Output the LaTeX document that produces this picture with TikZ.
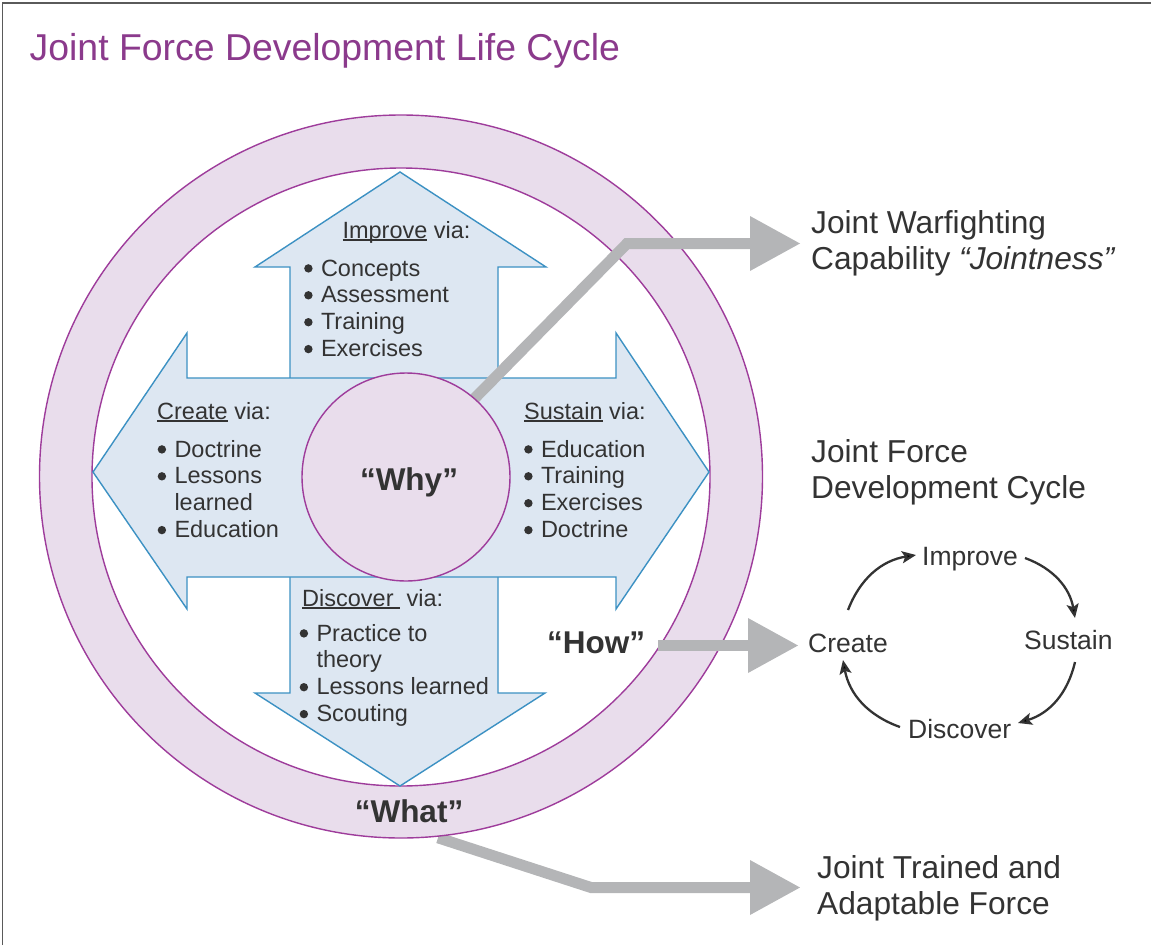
\documentclass[tikz,border=0pt]{standalone}
\usepackage{fontspec}
\setmainfont{Liberation Sans}
\usetikzlibrary{arrows.meta}
\definecolor{ttl}{RGB}{139,58,140}
\definecolor{ringfill}{RGB}{233,221,236}
\definecolor{ringline}{RGB}{158,60,155}
\definecolor{crossfill}{RGB}{221,231,242}
\definecolor{crossline}{RGB}{60,145,195}
\definecolor{arrowgray}{RGB}{180,181,183}
\definecolor{txt}{RGB}{51,51,51}
\definecolor{framecol}{RGB}{90,90,90}
\newsavebox\ulbox
\newcommand{\myul}[1]{\sbox\ulbox{#1}\rlap{\rule[-3pt]{\wd\ulbox}{1.8pt}}\usebox\ulbox}
\newcommand{\bdot}{\tikz[baseline=0pt,x=1pt,y=1pt]\fill[txt] (4.3,7.6) circle[radius=4.2pt];}
\newcommand{\bitem}[1]{\makebox[16.8pt][l]{\bdot}#1}
\newcommand{\bcont}[1]{\hspace*{16.8pt}#1}
\begin{document}
\begin{tikzpicture}[x=1pt,y=1pt,
  lst/.style={anchor=base west, inner sep=0pt, text=txt, font=\fontsize{23.5}{26.9}\selectfont},
  side/.style={anchor=base west, inner sep=0pt, text=txt, font=\fontsize{31.7}{36}\selectfont},
  cyclbl/.style={anchor=base west, inner sep=0pt, text=txt, font=\fontsize{26.5}{30}\selectfont},
  big/.style={anchor=base, inner sep=0pt, text=txt, font=\fontsize{31.5}{36}\selectfont\bfseries},
  ringc/.style={circle, inner sep=0pt, draw=ringline, line width=1.4pt},
  crossst/.style={fill=crossfill, draw=crossline, line width=1.4pt, line join=miter},
  gshaft/.style={draw=arrowgray, line width=11pt, line join=miter},
  ghead/.style={fill=arrowgray},
  cyc/.style={draw=txt, line width=2.3pt, -{Stealth[length=14pt,width=12pt,inset=3pt]}}
]
\useasboundingbox (0,0) rectangle (1151,-945);
\draw[framecol, line width=1.5pt] (2.5,-945) -- (2.5,-3) -- (1151,-3);

% title
\node[anchor=base west, inner sep=0pt, text=ttl, font=\fontsize{37.4}{42}\selectfont] (title) at (29.5,-60) {Joint Force Development Life Cycle};

% "What" arrow (start tucked under the ring)
\coordinate (w0) at (438,-837.8);
\coordinate (w1) at (591,-887.5);
\coordinate (w2) at (751,-887.5);
\draw[gshaft] (w0) -- (w1) -- (w2);
\fill[ghead] (w2) ++(-1,27.5) -- ++(50,-27.5) -- ++(-50,-27.5) -- cycle;

% ring
\node[ringc, fill=ringfill, minimum size=723pt] (outer) at (401,-476.5) {};
\node[ringc, fill=white, minimum size=618pt] (inner) at (401,-477) {};

% cross
\filldraw[crossst] (400,-172) -- (546,-267) -- (498,-267) -- (498,-693) -- (545,-693) -- (400,-786)
  -- (255,-693) -- (290,-693) -- (290,-267) -- (255,-267) -- cycle;
\filldraw[crossst] (93,-472) -- (187,-333) -- (187,-378) -- (616,-378) -- (616,-333) -- (709,-472)
  -- (616,-609) -- (616,-577) -- (187,-577) -- (187,-609) -- cycle;

% Jointness arrow (starts under the centre circle)
\coordinate (j0) at (445,-428.5);
\coordinate (j1) at (627,-243.5);
\coordinate (j2) at (751,-243.5);
\draw[gshaft] (j0) -- (j1) -- (j2);
\fill[ghead] (j2) ++(-1,27.5) -- ++(50,-27.5) -- ++(-50,-27.5) -- cycle;

% centre circle
\node[ringc, fill=ringfill, minimum size=208pt] (why) at (406,-477) {};

% How arrow
\coordinate (h0) at (658,-645.5);
\coordinate (h1) at (749,-645.5);
\draw[gshaft] (h0) -- (h1);
\fill[ghead] (h1) ++(-1,27.5) -- ++(50,-27.5) -- ++(-50,-27.5) -- cycle;

% cross texts
\node[lst, anchor=base] (imph) at (406.5,-238) {\myul{Improve} via:};
\node[lst] (impl) at (304,-276) {\begin{tabular}[t]{@{}l@{}}\bitem{Concepts}\\ \bitem{Assessment}\\ \bitem{Training}\\ \bitem{Exercises}\end{tabular}};

\node[lst] (creh) at (157,-419) {\myul{Create} via:};
\node[lst] (crel) at (157.5,-457) {\begin{tabular}[t]{@{}l@{}}\bitem{Doctrine}\\ \bitem{Lessons}\\ \bcont{learned}\\ \bitem{Education}\end{tabular}};

\node[lst] (sush) at (524,-419) {\myul{Sustain} via:};
\node[lst] (susl) at (524,-457) {\begin{tabular}[t]{@{}l@{}}\bitem{Education}\\ \bitem{Training}\\ \bitem{Exercises}\\ \bitem{Doctrine}\end{tabular}};

\node[lst] (dish) at (302,-606) {\myul{Discover\ } via:};
\node[lst] (disl) at (299.5,-641) {\begin{tabular}[t]{@{}l@{}}\bitem{Practice to}\\ \bcont{theory}\\ \bitem{Lessons learned}\\ \bitem{Scouting}\end{tabular}};

% big quotes
\node[big] (whyt) at (409,-490) {“Why”};
\node[big] (howt) at (596,-653) {“How”};
\node[big] (whatt) at (409,-822) {“What”};

% right-hand texts
\node[side] (jw) at (811,-233) {\begin{tabular}[t]{@{}l@{}}Joint Warfighting\\ Capability \textit{“Jointness”}\end{tabular}};
\node[side] (jf) at (811,-462) {\begin{tabular}[t]{@{}l@{}}Joint Force\\ Development Cycle\end{tabular}};
\node[side] (jt) at (817,-878) {\begin{tabular}[t]{@{}l@{}}Joint Trained and\\ Adaptable Force\end{tabular}};

% small cycle
\node[cyclbl] (cimp) at (922,-565) {Improve};
\node[cyclbl] (ccre) at (808,-652) {Create};
\node[cyclbl] (csus) at (1024,-649) {Sustain};
\node[cyclbl] (cdis) at (908,-738) {Discover};
\coordinate (c1a) at (848,-610); \coordinate (c1b) at (916,-555);
\coordinate (c2a) at (1025,-558); \coordinate (c2b) at (1075,-618);
\coordinate (c3a) at (1075,-662); \coordinate (c3b) at (1018,-723);
\coordinate (c4a) at (900,-727); \coordinate (c4b) at (843,-660);
\draw[cyc] (c1a) to[bend left=30] (c1b);
\draw[cyc] (c2a) to[bend left=30] (c2b);
\draw[cyc] (c3a) to[bend left=30] (c3b);
\draw[cyc] (c4a) to[bend left=30] (c4b);
\end{tikzpicture}
\end{document}
